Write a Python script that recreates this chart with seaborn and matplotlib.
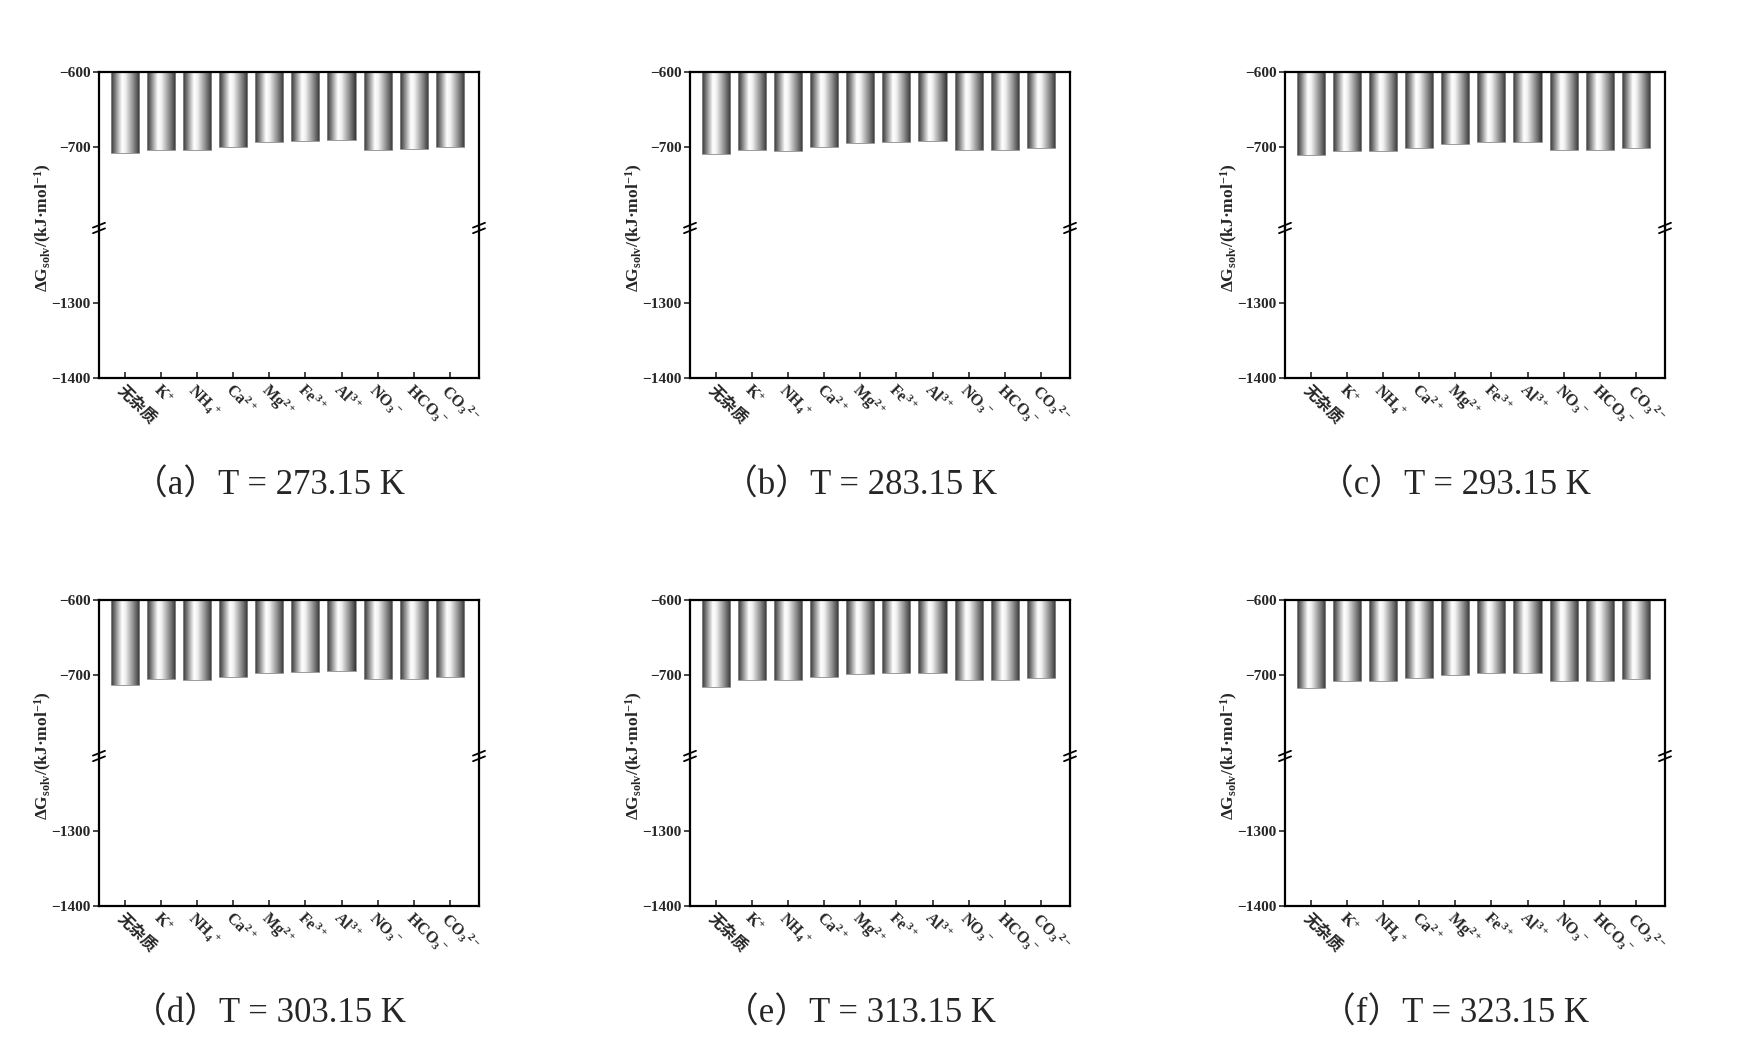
import numpy as np
import pandas as pd
import matplotlib
matplotlib.use("Agg")
import matplotlib.pyplot as plt
import seaborn as sns
from matplotlib.colors import LinearSegmentedColormap
from matplotlib.lines import Line2D
from matplotlib.transforms import ScaledTranslation

# x categories (impurity ions)
ions = ["无杂质", r"K$^{+}$", r"NH$_{4}$$^{+}$", r"Ca$^{2+}$", r"Mg$^{2+}$",
        r"Fe$^{3+}$", r"Al$^{3+}$", r"NO$_{3}$$^{-}$", r"HCO$_{3}$$^{-}$", r"CO$_{3}$$^{2-}$"]

panel_tags = ["a", "b", "c", "d", "e", "f"]
temps = ["273.15", "283.15", "293.15", "303.15", "313.15", "323.15"]

# solvation free energy, kJ/mol
dg_273 = [-707.6, -703.6, -703.6, -699.6, -693.3, -691.6, -691.1, -703.6, -703.1, -700.4]
dg_283 = [-709.3, -704.4, -704.9, -700.4, -694.7, -692.9, -692.4, -704.0, -704.0, -701.3]
dg_293 = [-711.1, -704.9, -705.3, -700.9, -696.0, -693.8, -693.8, -704.4, -704.4, -701.8]
dg_303 = [-713.8, -705.8, -706.2, -702.2, -697.8, -695.6, -695.1, -705.8, -705.3, -703.1]
dg_313 = [-716.0, -707.1, -707.1, -703.1, -699.1, -697.3, -696.9, -706.7, -706.7, -704.0]
dg_323 = [-717.8, -707.6, -708.0, -704.4, -699.6, -697.8, -697.8, -707.6, -707.6, -704.9]
all_dg = [dg_273, dg_283, dg_293, dg_303, dg_313, dg_323]

upper_ticks = [-600, -700]
lower_ticks = [-1300, -1400]

W, H = 1741, 1055
col_left = [99, 690, 1285]
row_top = [72, 600]

sns.set_theme(style="white")
plt.rcParams["font.family"] = ["Liberation Serif", "Noto Sans CJK SC", "DejaVu Sans"]
plt.rcParams["font.weight"] = "bold"
plt.rcParams["mathtext.fontset"] = "custom"
plt.rcParams["mathtext.rm"] = "Liberation Serif:bold"
plt.rcParams["mathtext.it"] = "Liberation Serif:italic:bold"
plt.rcParams["mathtext.bf"] = "Liberation Serif:bold"
plt.rcParams["mathtext.default"] = "rm"

bar_cmap = LinearSegmentedColormap.from_list(
    "cyl", [(0.0, "#353535"), (0.12, "#707070"), (0.38, "#ffffff"),
            (0.5, "#f0f0f0"), (0.8, "#828282"), (1.0, "#333333")])
grad = np.linspace(0, 1, 256).reshape(1, -1)


def fx(px):
    return px / W


def fy(px):
    return 1 - px / H


def add_break(fig, x, y):
    for dy in (-2.8, 2.8):
        fig.add_artist(Line2D([fx(x - 6), fx(x + 6)], [fy(y - dy + 2.4), fy(y - dy - 2.4)],
                              color="black", lw=1.3))


def draw_panel(fig, left, top, values, tag, temp):
    up_h, lo_h, w = 156, 150, 380
    ax_up = fig.add_axes([fx(left), fy(top + up_h), w / W, up_h / H])
    ax_lo = fig.add_axes([fx(left), fy(top + up_h + lo_h), w / W, lo_h / H])
    df = pd.DataFrame({"ion": ions, "dg": values})

    for ax in (ax_up, ax_lo):
        sns.barplot(data=df, x="ion", y="dg", ax=ax, width=0.78, color="#888888",
                    edgecolor="#8a8a8a", linewidth=0.6)
        for p in ax.patches:
            x0, y0 = p.get_x(), p.get_y()
            ax.imshow(grad, extent=[x0, x0 + p.get_width(), y0 + p.get_height(), y0],
                      aspect="auto", cmap=bar_cmap, zorder=p.get_zorder() - 0.1,
                      interpolation="bilinear")
            p.set_facecolor("none")
        ax.set_xlim(-0.72, 9.81)
        ax.set_xlabel("")
        ax.set_ylabel("")
        for s in ax.spines.values():
            s.set_linewidth(1.6)
            s.set_color("black")
        ax.tick_params(axis="y", direction="out", length=4, width=1.2, labelsize=11,
                       pad=2, left=True)

    ax_up.set_ylim(-808, -600)
    ax_lo.set_ylim(-1400, -1200)
    ax_up.set_yticks(upper_ticks)
    ax_lo.set_yticks(lower_ticks)
    ax_up.spines["bottom"].set_visible(False)
    ax_lo.spines["top"].set_visible(False)
    ax_up.tick_params(axis="x", bottom=False, labelbottom=False)
    ax_lo.tick_params(axis="x", direction="in", length=4, width=1.2, labelsize=11.5,
                      pad=7, bottom=True)
    for lab in ax_lo.get_xticklabels():
        lab.set_rotation(-45)
        lab.set_ha("left")
        lab.set_va("center")
        lab.set_rotation_mode("anchor")
        lab.set_transform(lab.get_transform() + ScaledTranslation(-6 / 100, 0, fig.dpi_scale_trans))

    add_break(fig, left, top + up_h)
    add_break(fig, left + w, top + up_h)

    fig.text(fx(left - 56), fy(top + 156), r"ΔG$_{solv}$/(kJ·mol$^{-1}$)", rotation=90,
             ha="center", va="center", fontsize=12.5, fontweight="bold")
    fig.text(fx(left + 170), fy(top + 414), f"（{tag}）T = {temp} K", ha="center",
             va="center", fontsize=25, fontweight="normal")


fig = plt.figure(figsize=(17.41, 10.55), dpi=100)
for i, vals in enumerate(all_dg):
    draw_panel(fig, col_left[i % 3], row_top[i // 3], vals, panel_tags[i], temps[i])

fig.savefig("out.png", dpi=100, facecolor="white")
